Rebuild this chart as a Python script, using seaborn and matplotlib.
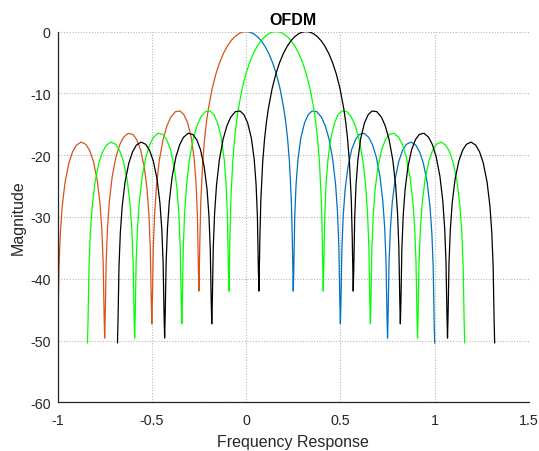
import numpy as np
import pandas as pd
import matplotlib
matplotlib.use("Agg")
import matplotlib.pyplot as plt
import seaborn as sns

# Response of one subcarrier: distance from the carrier centre (normalised) and magnitude in dB
offset_freq = [0, 0.02, 0.04, 0.06, 0.08, 0.10, 0.12, 0.14, 0.16, 0.18, 0.20, 0.21, 0.22, 0.23, 0.24, 0.245, 0.25,
               0.253, 0.258, 0.265, 0.275, 0.29, 0.31, 0.33, 0.35, 0.375, 0.40, 0.42, 0.44, 0.46, 0.475, 0.485, 0.492, 0.497, 0.50,
               0.503, 0.508, 0.515, 0.525, 0.54, 0.56, 0.58, 0.60, 0.625, 0.65, 0.67, 0.69, 0.71, 0.725, 0.735, 0.742, 0.747, 0.75,
               0.753, 0.758, 0.765, 0.775, 0.79, 0.81, 0.83, 0.85, 0.875, 0.90, 0.92, 0.94, 0.96, 0.975, 0.985, 0.992, 0.997, 1.0]
magnitude_db = [0, -0.09, -0.36, -0.83, -1.49, -2.38, -3.53, -4.99, -6.84, -9.24, -12.48, -14.61, -17.34, -21.12, -27.42, -33.59, -42.0,
                -38.30, -29.95, -24.75, -20.70, -17.27, -14.76, -13.43, -12.86, -12.96, -13.88, -15.28, -17.44, -20.81, -24.90, -29.39, -34.91, -43.49, -47.3,
                -43.57, -35.13, -29.80, -25.58, -21.91, -19.09, -17.49, -16.66, -16.46, -17.11, -18.31, -20.28, -23.47, -27.43, -31.84, -37.30, -45.84, -49.6,
                -45.87, -37.39, -32.01, -27.71, -23.92, -20.96, -19.22, -18.25, -17.89, -18.39, -19.46, -21.31, -24.39, -28.26, -32.61, -38.03, -46.54, -50.4]

# Subcarrier centres
carrier_centers = [0.0, 0.159, 0.318]

x_ticks = [-1, -0.5, 0, 0.5, 1, 1.5]
x_tick_labels = ["-1", "-0.5", "0", "0.5", "1", "1.5"]
y_ticks = [0, -10, -20, -30, -40, -50, -60]
y_tick_labels = ["0", "-10", "-20", "-30", "-40", "-50", "-60"]

sns.set_style("white")
plt.rcParams["font.family"] = ["Liberation Sans", "DejaVu Sans"]

off = np.array(offset_freq)
mag = np.array(magnitude_db)

segments = []
c0 = carrier_centers[0]
segments.append(pd.DataFrame({"f": c0 - off[::-1], "m": mag[::-1], "seg": "c0_left"}))
segments.append(pd.DataFrame({"f": c0 + off, "m": mag, "seg": "c0_right"}))
for i, c in enumerate(carrier_centers[1:], start=1):
    segments.append(pd.DataFrame({"f": np.concatenate([c - off[::-1], c + off[1:]]),
                                  "m": np.concatenate([mag[::-1], mag[1:]]),
                                  "seg": f"c{i}"}))
df = pd.concat(segments, ignore_index=True)

palette = {"c0_left": "#D95319", "c0_right": "#0072BD", "c1": "#00FF00", "c2": "#000000"}

fig = plt.figure(figsize=(5.39, 4.52), dpi=100)
ax = fig.add_axes([0.1067, 0.1077, 0.9814 - 0.1067, 0.928 - 0.1077])

for seg, color in palette.items():
    sub = df[df["seg"] == seg]
    sns.lineplot(data=sub, x="f", y="m", ax=ax, color=color, linewidth=0.9,
                 sort=False, estimator=None, legend=False)

ax.set_xlim(-1, 1.5)
ax.set_ylim(-60, 0)
ax.set_xticks(x_ticks)
ax.set_xticklabels(x_tick_labels)
ax.set_yticks(y_ticks)
ax.set_yticklabels(y_tick_labels)

ax.grid(True, color="#b8b8b8", linestyle=(0, (1, 1.5)), linewidth=0.8)
ax.set_axisbelow(True)

for side in ["top", "right"]:
    ax.spines[side].set_visible(False)
for side in ["left", "bottom"]:
    ax.spines[side].set_color("#262626")
    ax.spines[side].set_linewidth(0.9)

ax.tick_params(direction="in", length=3, width=0.8, color="#262626",
               labelsize=10.3, labelcolor="#262626")
ax.tick_params(axis="x", pad=8)
ax.tick_params(axis="y", pad=5)

ax.set_xlabel("Frequency Response", fontsize=11.5, color="#262626", labelpad=5)
ax.set_ylabel("Magnitude", fontsize=11.5, color="#262626", labelpad=3)
ax.set_title("OFDM", fontsize=11.5, fontweight="bold", color="#000000", pad=5.5)

fig.savefig("out.png", dpi=100)
